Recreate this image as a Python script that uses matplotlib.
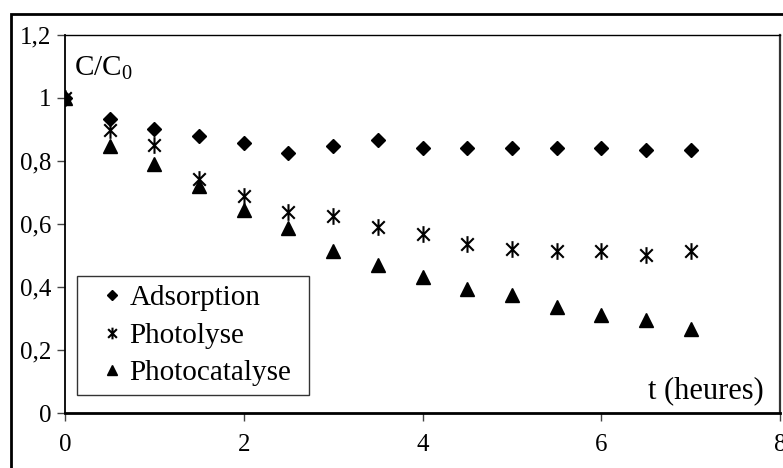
import numpy as np
import matplotlib
matplotlib.use('Agg')
import matplotlib.pyplot as plt
from matplotlib.path import Path
from matplotlib.patches import Rectangle

plt.rcParams['font.family'] = ['Liberation Serif', 'DejaVu Serif']
plt.rcParams['mathtext.fontset'] = 'custom'
plt.rcParams['mathtext.rm'] = 'Liberation Serif'

# data
t = [0, 0.5, 1, 1.5, 2, 2.5, 3, 3.5, 4, 4.5, 5, 5.5, 6, 6.5, 7]
adsorption = [1.0, 0.932, 0.903, 0.879, 0.856, 0.824, 0.847, 0.868, 0.842,
              0.840, 0.840, 0.840, 0.840, 0.834, 0.834]
photolyse = [1.0, 0.898, 0.852, 0.742, 0.688, 0.638, 0.624, 0.592, 0.567,
             0.535, 0.521, 0.514, 0.514, 0.503, 0.514]
photocatalyse = [1.0, 0.847, 0.792, 0.720, 0.643, 0.588, 0.515, 0.471, 0.433,
                 0.395, 0.376, 0.337, 0.312, 0.294, 0.268]

yticks = [0, 0.2, 0.4, 0.6, 0.8, 1.0, 1.2]
ytick_labels = ['0', '0,2', '0,4', '0,6', '0,8', '1', '1,2']
xticks = [0, 2, 4, 6, 8]

# Excel style asterisk: X plus a vertical bar
star = Path([(0, -1), (0, 1), (-0.75, -0.75), (0.75, 0.75), (-0.75, 0.75), (0.75, -0.75)],
            [Path.MOVETO, Path.LINETO, Path.MOVETO, Path.LINETO, Path.MOVETO, Path.LINETO])

fig = plt.figure(figsize=(7.83, 4.68), dpi=100)
ax = fig.add_axes([65 / 783, 1 - 413 / 468, 715 / 783, 378 / 468])

ax.plot(t, adsorption, linestyle='none', marker='D', ms=7, color='black', label='Adsorption')
ax.plot(t, photolyse, linestyle='none', marker=star, ms=12, mew=1.5, color='black',
        mfc='none', label='Photolyse')
ax.plot(t, photocatalyse, linestyle='none', marker='^', ms=9.5, color='black', label='Photocatalyse')

ax.set_xlim(0, 8)
ax.set_ylim(0, 1.2)
ax.set_xticks(xticks)
ax.set_xticklabels([str(v) for v in xticks])
ax.set_yticks(yticks)
ax.set_yticklabels(ytick_labels)
ax.tick_params(axis='both', direction='out', length=6, width=1, color='#444444', labelsize=18)
ax.tick_params(axis='x', pad=9)
ax.tick_params(axis='y', pad=4)

ax.spines['bottom'].set_linewidth(2)
ax.spines['left'].set_linewidth(1.3)
ax.spines['top'].set_linewidth(1)
ax.spines['right'].set_linewidth(1.6)
ax.spines['right'].set_color('#333333')

ax.text(0.013, 0.912, 'C/C$_0$', transform=ax.transAxes, fontsize=21, va='center', ha='left')
ax.text(0.977, 0.06, 't (heures)', transform=ax.transAxes, fontsize=22, va='center', ha='right')

leg = ax.legend(loc='lower left', bbox_to_anchor=(0.0168, 0.0476, 0.3245, 0.3), mode='expand',
                borderaxespad=0, fancybox=False, framealpha=1, edgecolor='#333333',
                fontsize=21, markerscale=0.7, handlelength=1.8, handletextpad=-0.3,
                labelspacing=0.38, borderpad=0.3)
leg.get_frame().set_linewidth(1)

# outer chart border (cut by the picture edge on right and bottom)
fig.add_artist(Rectangle((11 / 783, -0.05), 1.0, 1 - 14 / 468 + 0.05, transform=fig.transFigure,
                         fill=False, lw=2, edgecolor='black'))

fig.savefig('out.png', dpi=100)
